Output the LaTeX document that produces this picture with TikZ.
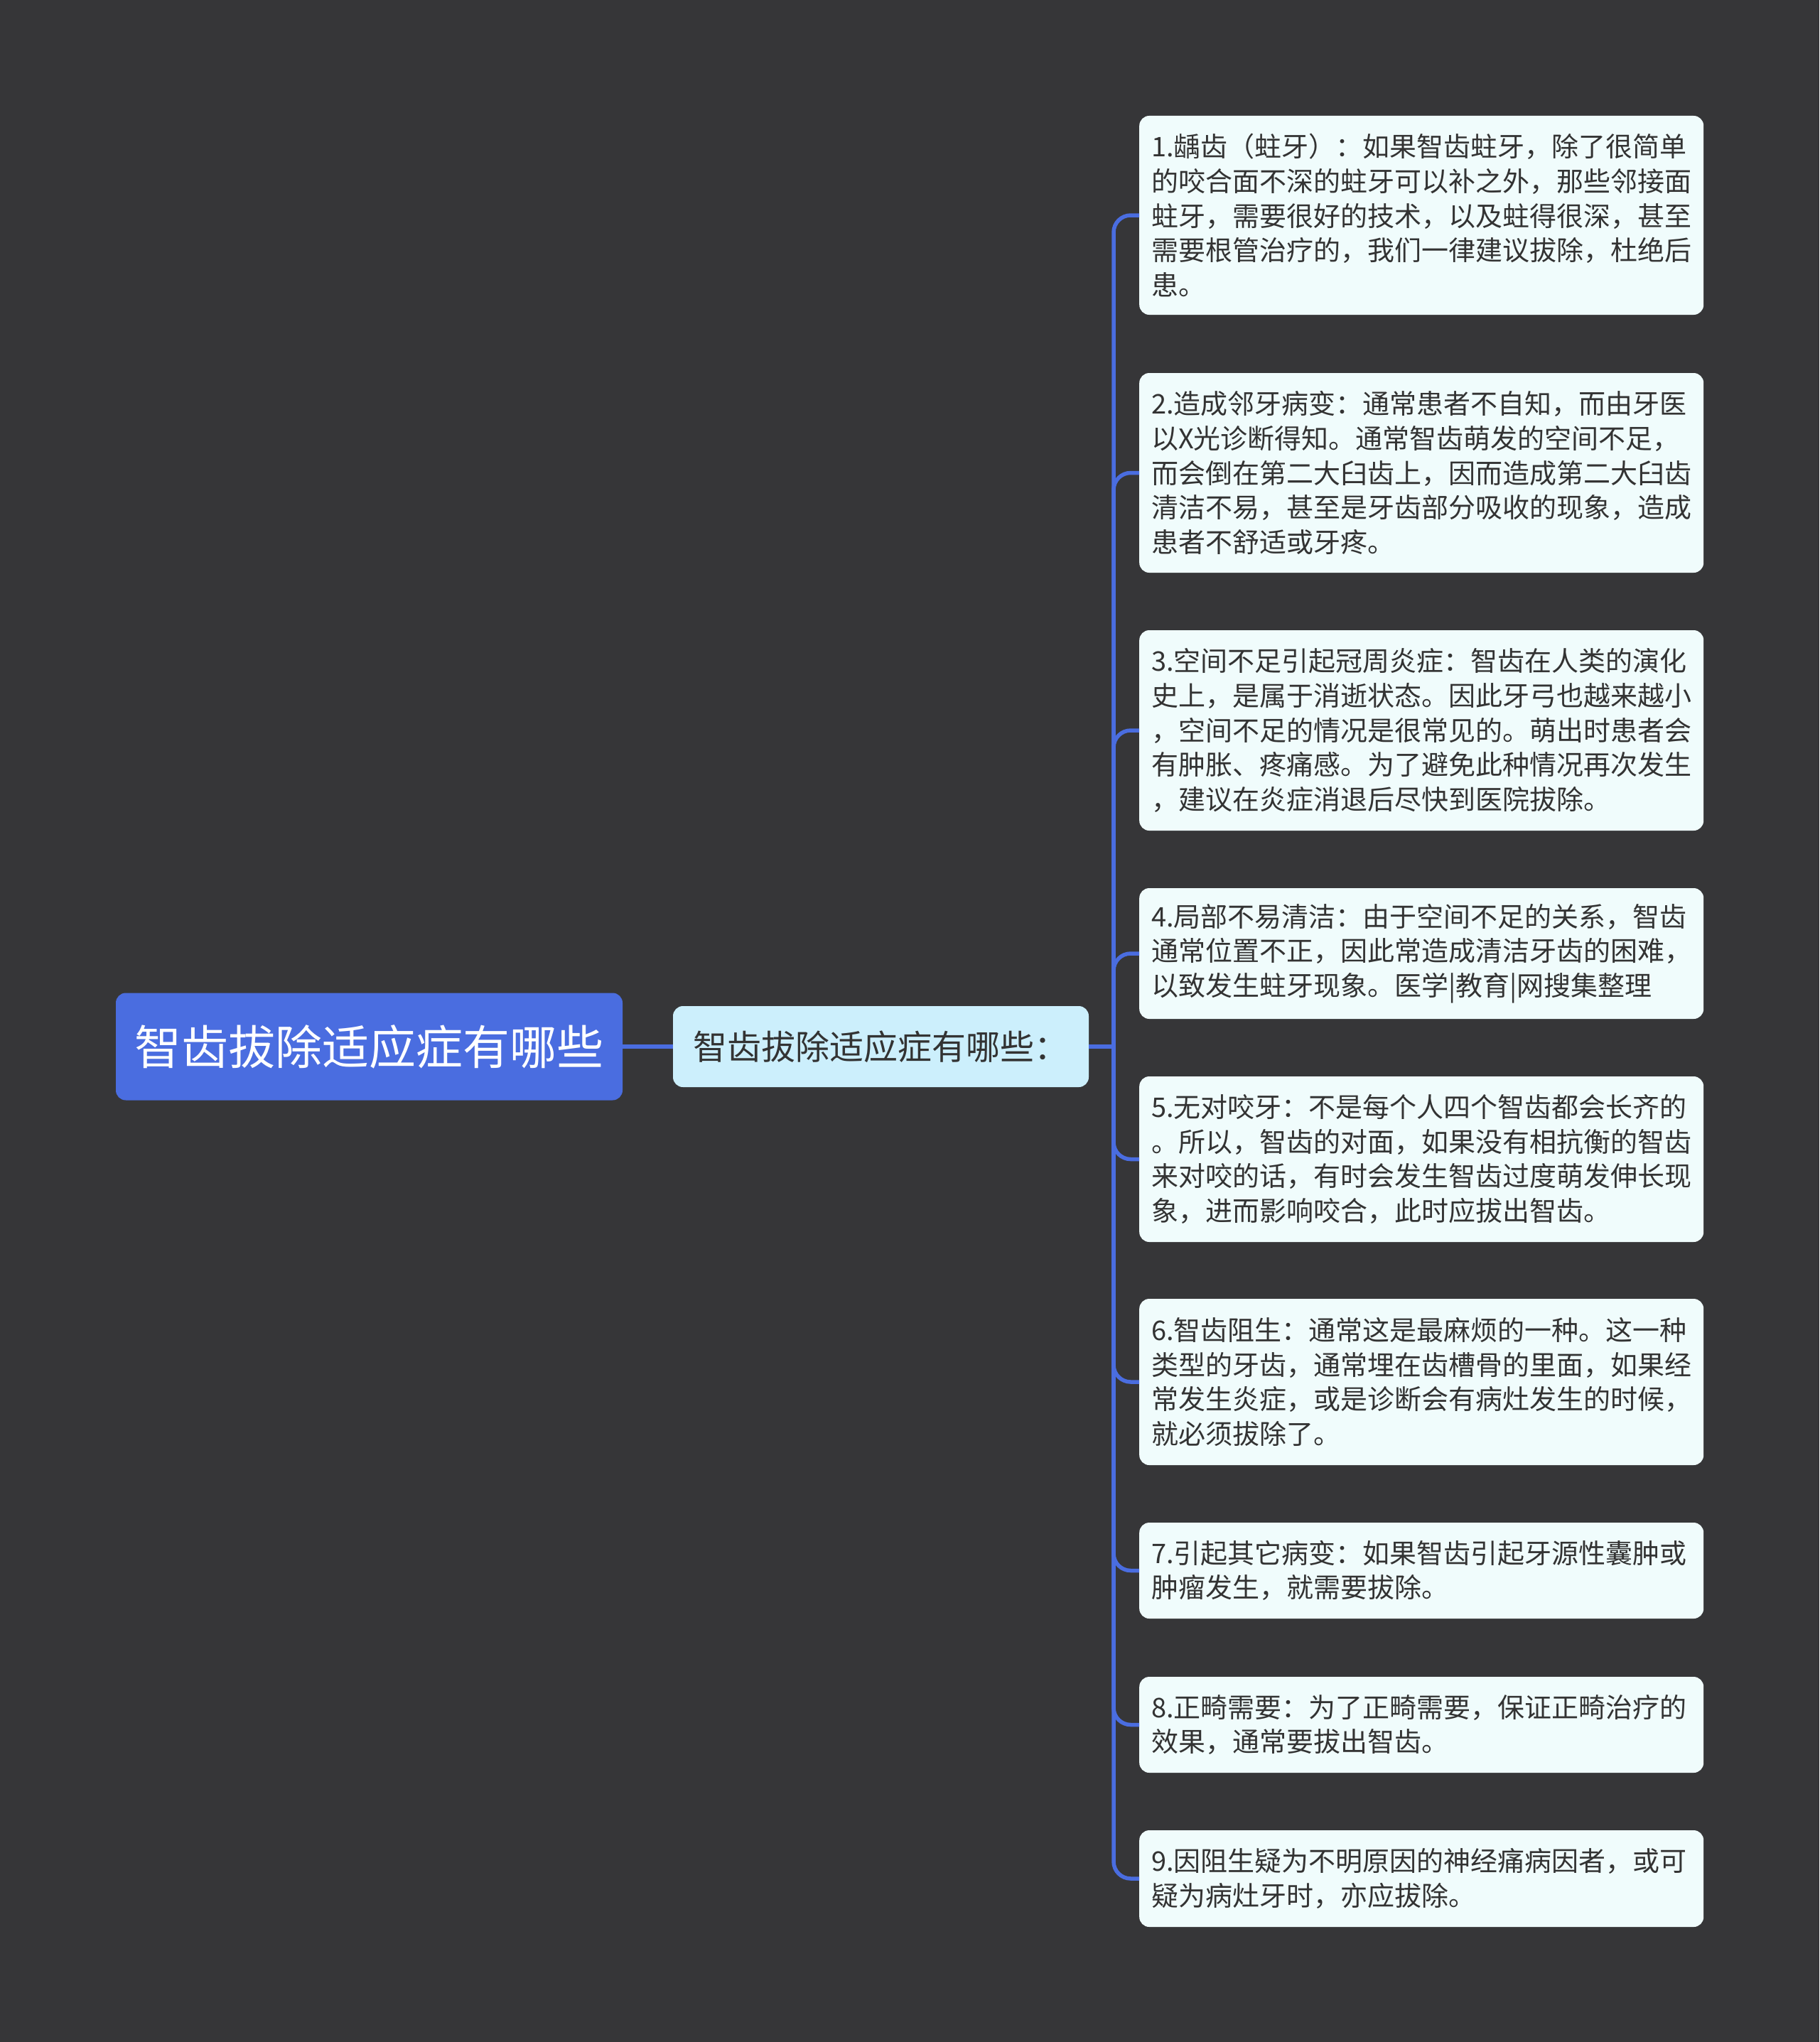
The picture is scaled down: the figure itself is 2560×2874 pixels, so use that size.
\documentclass[tikz,border=0pt]{standalone}
\usepackage{fontspec}
\setmainfont{Noto Sans CJK SC}
\definecolor{bg}{HTML}{363638}
\definecolor{rootfill}{HTML}{4A6DE0}
\definecolor{subfill}{HTML}{CCEFFC}
\definecolor{leaffill}{HTML}{F0FCFC}
\definecolor{txt}{HTML}{333333}
\definecolor{linec}{HTML}{4A6DE0}
\begin{document}
\begin{tikzpicture}[x=1pt,y=-1pt,
  leaf/.style={anchor=west, fill=leaffill, rounded corners=14pt, text=txt,
    font=\fontsize{38}{48.6}\selectfont, align=left, text width=760pt,
    inner xsep=17pt, inner ysep=0pt, minimum width=794pt},
  conn/.style={draw=linec, line width=5.5pt, rounded corners=24pt}]
\fill[bg] (0,0) rectangle (2560,2874);
\node[fill=rootfill, rounded corners=14pt, text=white, font=\fontsize{66}{80}\selectfont,
  minimum width=713pt, minimum height=151pt, inner sep=0pt] (root) at (519.5,1473) {智齿拔除适应症有哪些};
\node[fill=subfill, rounded corners=14pt, text=txt, font=\fontsize{48}{58}\selectfont,
  minimum width=585pt, minimum height=114pt, inner sep=0pt] (sub) at (1239.5,1473) {智齿拔除适应症有哪些：};
\coordinate (tr) at (1567,1473);

\node[leaf, minimum height=280pt] (l1) at (1603,303) {1.龋齿（蛀牙）：如果智齿蛀牙，除了很简单\\的咬合面不深的蛀牙可以补之外，那些邻接面\\蛀牙，需要很好的技术，以及蛀得很深，甚至\\需要根管治疗的，我们一律建议拔除，杜绝后\\患。};
\node[leaf, minimum height=281pt] (l2) at (1603,665.5) {2.造成邻牙病变：通常患者不自知，而由牙医\\以X光诊断得知。通常智齿萌发的空间不足，\\而会倒在第二大臼齿上，因而造成第二大臼齿\\清洁不易，甚至是牙齿部分吸收的现象，造成\\患者不舒适或牙疼。};
\node[leaf, minimum height=282pt] (l3) at (1603,1028) {3.空间不足引起冠周炎症：智齿在人类的演化\\史上，是属于消逝状态。因此牙弓也越来越小\\，空间不足的情况是很常见的。萌出时患者会\\有肿胀、疼痛感。为了避免此种情况再次发生\\，建议在炎症消退后尽快到医院拔除。};
\node[leaf, minimum height=184pt] (l4) at (1603,1342) {4.局部不易清洁：由于空间不足的关系，智齿\\通常位置不正，因此常造成清洁牙齿的困难，\\以致发生蛀牙现象。医学|教育|网搜集整理};
\node[leaf, minimum height=233pt] (l5) at (1603,1631.5) {5.无对咬牙：不是每个人四个智齿都会长齐的\\。所以，智齿的对面，如果没有相抗衡的智齿\\来对咬的话，有时会发生智齿过度萌发伸长现\\象，进而影响咬合，此时应拔出智齿。};
\node[leaf, minimum height=234pt] (l6) at (1603,1945) {6.智齿阻生：通常这是最麻烦的一种。这一种\\类型的牙齿，通常埋在齿槽骨的里面，如果经\\常发生炎症，或是诊断会有病灶发生的时候，\\就必须拔除了。};
\node[leaf, minimum height=135pt] (l7) at (1603,2210.5) {7.引起其它病变：如果智齿引起牙源性囊肿或\\肿瘤发生，就需要拔除。};
\node[leaf, minimum height=135pt] (l8) at (1603,2427.5) {8.正畸需要：为了正畸需要，保证正畸治疗的\\效果，通常要拔出智齿。};
\node[leaf, minimum height=136pt] (l9) at (1603,2644) {9.因阻生疑为不明原因的神经痛病因者，或可\\疑为病灶牙时，亦应拔除。};

\draw[conn] (root.east) -- (sub.west);
\draw[conn] (sub.east) -- (tr);
\foreach \n in {1,...,9}{\draw[conn] (tr) |- (l\n.west);}
\end{tikzpicture}
\end{document}
